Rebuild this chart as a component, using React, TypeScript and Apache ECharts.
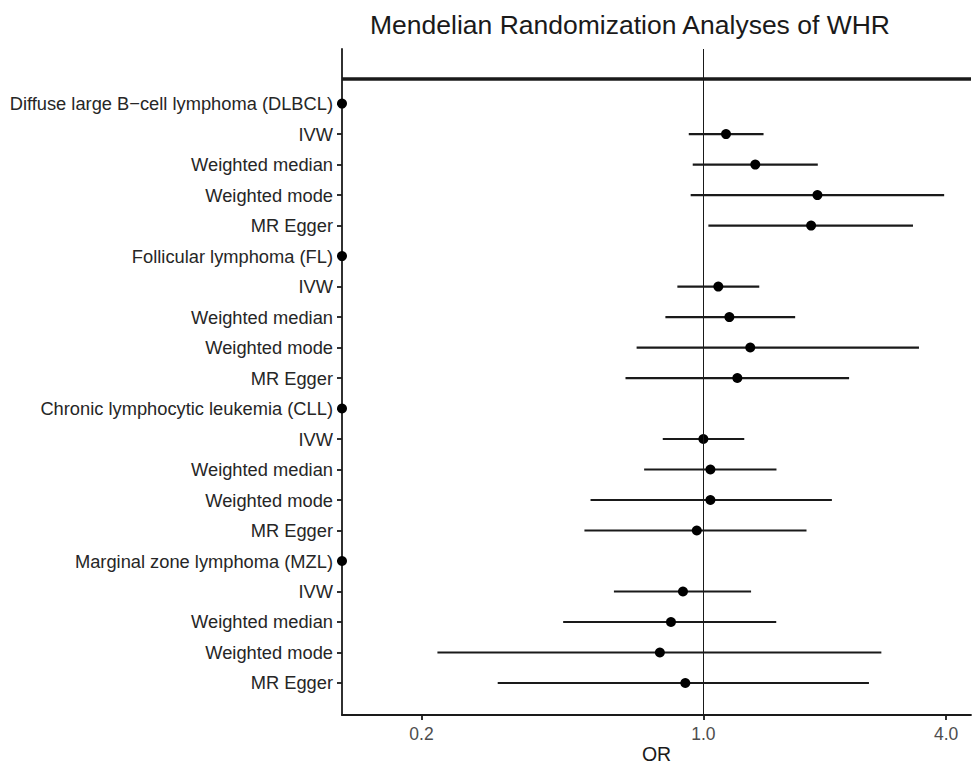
import React, { useEffect, useRef } from "react";
import * as echarts from "echarts";

const labels = [
  "Diffuse large B\u2212cell lymphoma (DLBCL)", "IVW", "Weighted median", "Weighted mode", "MR Egger",
  "Follicular lymphoma (FL)", "IVW", "Weighted median", "Weighted mode", "MR Egger",
  "Chronic lymphocytic leukemia (CLL)", "IVW", "Weighted median", "Weighted mode", "MR Egger",
  "Marginal zone lymphoma (MZL)", "IVW", "Weighted median", "Weighted mode", "MR Egger",
];
const isHeader = [true, false, false, false, false, true, false, false, false, false, true, false, false, false, false, true, false, false, false, false];
const orValues = [null, 1.138, 1.345, 1.918, 1.85, null, 1.089, 1.16, 1.307, 1.214, null, 1.0, 1.041, 1.041, 0.963, null, 0.89, 0.831, 0.78, 0.902];
const lowerCI = [null, 0.92, 0.941, 0.93, 1.029, null, 0.862, 0.805, 0.683, 0.641, null, 0.793, 0.713, 0.525, 0.507, null, 0.6, 0.449, 0.219, 0.309];
const upperCI = [null, 1.41, 1.922, 3.955, 3.31, null, 1.376, 1.689, 3.425, 2.298, null, 1.263, 1.518, 2.083, 1.802, null, 1.313, 1.516, 2.763, 2.574];
const xTicks = [0.2, 1.0, 4.0];
const xMin = 0.127;
const xMax = 4.61;
const titleText = "Mendelian Randomization Analyses of WHR";

export default function App() {
  const ref = useRef<HTMLDivElement>(null);
  useEffect(() => {
    if (!ref.current) return;
    const chart = echarts.init(ref.current, null, { renderer: "svg" });
    const rows = labels.map((_, i) => i + 1);
    const pointData = rows.map((r, i) => [isHeader[i] ? xMin : orValues[i], r]);
    const barData = rows
      .map((r, i) => (isHeader[i] ? null : [lowerCI[i], upperCI[i], r]))
      .filter((d) => d !== null);
    const font = "'Liberation Sans', Arial, Helvetica, sans-serif";
    chart.setOption({
      animation: false,
      title: {
        text: titleText,
        left: 625,
        top: 6,
        textAlign: "center",
        textStyle: { fontFamily: font, fontSize: 26.5, fontWeight: "normal", color: "#1a1a1a" },
      },
      grid: { left: 342, right: 1, top: 49, bottom: 52, containLabel: false, outerBoundsMode: "none" },
      xAxis: {
        type: "log",
        logBase: 10,
        min: xMin,
        max: xMax,
        name: "OR",
        nameLocation: "middle",
        nameGap: 29,
        nameMoveOverlap: false,
        nameTextStyle: { fontFamily: font, fontSize: 19.5, lineHeight: 20, color: "#1a1a1a" },
        axisLine: { show: true, onZero: false, lineStyle: { color: "#1a1a1a", width: 1.8 } },
        axisTick: { show: true, length: 5, customValues: xTicks, lineStyle: { color: "#1a1a1a", width: 1.8 } },
        axisLabel: {
          customValues: xTicks,
          formatter: (v: number) => v.toFixed(1),
          fontFamily: font,
          fontSize: 17.5,
          color: "#4d4d4d",
          margin: 10,
        },
        splitLine: { show: false },
        minorTick: { show: false },
      },
      yAxis: {
        type: "value",
        inverse: true,
        min: -0.79,
        max: 21.05,
        axisLine: { show: true, onZero: false, lineStyle: { color: "#1a1a1a", width: 1.8 } },
        axisTick: { show: true, length: 5, customValues: rows, lineStyle: { color: "#1a1a1a", width: 1.8 } },
        axisLabel: {
          customValues: rows,
          formatter: (v: number) => labels[Math.round(v) - 1] ?? "",
          fontFamily: font,
          fontSize: 18.3,
          color: "#262626",
          margin: 9,
        },
        splitLine: { show: false },
      },
      series: [
        {
          type: "custom",
          silent: true,
          renderItem: (params: any, api: any) => {
            const lo = api.coord([api.value(0), api.value(2)]);
            const hi = api.coord([api.value(1), api.value(2)]);
            return {
              type: "line",
              shape: { x1: lo[0], y1: lo[1], x2: hi[0], y2: hi[1] },
              style: { stroke: "#1a1a1a", lineWidth: 2.2 },
            };
          },
          encode: { x: [0, 1], y: 2 },
          data: barData,
          z: 2,
        },
        {
          type: "scatter",
          symbol: "circle",
          symbolSize: 10,
          itemStyle: { color: "#000000", opacity: 1 },
          data: pointData,
          clip: false,
          z: 3,
          markLine: {
            silent: true,
            symbol: "none",
            label: { show: false },
            data: [
              { xAxis: 1, lineStyle: { color: "#1a1a1a", width: 1, type: "solid" } },
              { yAxis: 0.2, lineStyle: { color: "#1a1a1a", width: 3.6, type: "solid" } },
            ],
          },
        },
      ],
    });
    return () => chart.dispose();
  }, []);
  return (
    <div
      ref={ref}
      style={{ position: "fixed", left: 0, top: 0, width: 972, height: 767, background: "#fff" }}
    />
  );
}
